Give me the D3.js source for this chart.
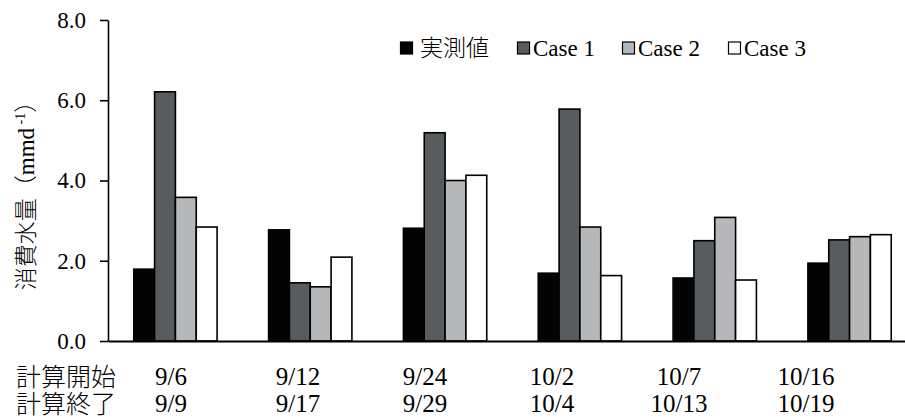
<!DOCTYPE html>
<html>
<head>
<meta charset="utf-8">
<script src="https://cdn.jsdelivr.net/npm/d3@7"></script>
<style>
  html, body { margin: 0; padding: 0; background: #fff; }
  svg { display: block; }
</style>
</head>
<body>
<svg id="chart" width="905" height="418"></svg>
<script>
// ---- data ----
const startLabels = ["9/6", "9/12", "9/24", "10/2", "10/7", "10/16"];
const endLabels   = ["9/9", "9/17", "9/29", "10/4", "10/13", "10/19"];
const seriesNames = ["実測値", "Case 1", "Case 2", "Case 3"];
const observed = [1.79, 2.77, 2.81, 1.69, 1.57, 1.94];
const case1    = [6.21, 1.45, 5.19, 5.78, 2.50, 2.52];
const case2    = [3.58, 1.35, 4.00, 2.84, 3.08, 2.60];
const case3    = [2.84, 2.09, 4.13, 1.63, 1.52, 2.65];
const yTicks   = [0, 2, 4, 6, 8];
const rowLabels = ["計算開始", "計算終了"];

const seriesValues = [observed, case1, case2, case3];
const colors = ["#030303", "#595c5f", "#b6b7b9", "#ffffff"];

const SERIF = "Liberation Serif";
const CJK = "'Liberation Serif', 'Noto Sans CJK JP'";

const svg = d3.select("#chart");

const y = d3.scaleLinear().domain([0, 8]).range([341, 20]);
const groupIdx = d3.range(startLabels.length);
const x0 = d3.scaleBand().domain(groupIdx).range([108, 917])
  .paddingInner(0.382).paddingOuter(0.191);
const x1 = d3.scaleBand().domain(d3.range(seriesNames.length)).range([0, x0.bandwidth()]);

// bars
const groups = svg.append("g").selectAll("g").data(groupIdx).join("g")
  .attr("transform", i => `translate(${x0(i)},0)`);
groups.selectAll("rect")
  .data(i => seriesValues.map((vals, s) => ({ s, v: vals[i] })))
  .join("rect")
  .attr("x", d => x1(d.s))
  .attr("y", d => y(d.v))
  .attr("width", x1.bandwidth())
  .attr("height", d => y(0) - y(d.v))
  .attr("fill", d => colors[d.s])
  .attr("stroke", "#000")
  .attr("stroke-width", 1.6);

// y axis
const yAxis = d3.axisLeft(y).tickValues(yTicks).tickFormat(d3.format(".1f"))
  .tickSize(8).tickSizeOuter(0).tickPadding(14);
const gy = svg.append("g").attr("transform", "translate(108,0)").call(yAxis);
gy.select(".domain").attr("stroke", "#000").attr("stroke-width", 1.6);
gy.selectAll(".tick line").attr("stroke", "#000").attr("stroke-width", 1.6);
gy.selectAll(".tick text").attr("fill", "#000")
  .attr("font-family", SERIF).attr("font-size", 23);

// x axis baseline
const xAxis = d3.axisBottom(x0).tickSize(0).tickSizeOuter(0).tickFormat("");
const gx = svg.append("g").attr("transform", `translate(0,${y(0)})`).call(xAxis);
gx.select(".domain").attr("stroke", "#000").attr("stroke-width", 2);

// category table labels
const rowY = [386, 413];
rowLabels.forEach((lab, r) => {
  svg.append("text").attr("x", 16).attr("y", rowY[r])
    .attr("font-family", CJK).attr("font-size", 25).attr("font-weight", 300)
    .attr("fill", "#000").text(lab);
});
const xl = d3.scalePoint().domain(groupIdx).range([171, 806]);
[startLabels, endLabels].forEach((labels, r) => {
  svg.append("g").selectAll("text").data(groupIdx).join("text")
    .attr("x", i => xl(i)).attr("y", rowY[r] - 1)
    .attr("text-anchor", "middle")
    .attr("font-family", SERIF).attr("font-size", 25).attr("fill", "#000")
    .text(i => labels[i]);
});

// y title
const title = svg.append("text")
  .attr("transform", "translate(34,190) rotate(-90)")
  .attr("text-anchor", "middle")
  .attr("font-family", CJK).attr("font-size", 23).attr("font-weight", 300)
  .attr("fill", "#000");
title.append("tspan").text("消費水量（");
title.append("tspan").attr("font-family", SERIF).text("mmd");
title.append("tspan").attr("font-family", SERIF).attr("font-size", 14).attr("dy", -9).text(" -1");
title.append("tspan").attr("dy", 9).text("）");

// legend
const legendX = [400, 517, 622, 728];
const lg = svg.append("g").selectAll("g").data(seriesNames).join("g")
  .attr("transform", (d, i) => `translate(${legendX[i]},42)`);
lg.append("rect").attr("x", 0.5).attr("y", 0).attr("width", 12).attr("height", 12)
  .attr("fill", (d, i) => colors[i]).attr("stroke", "#000").attr("stroke-width", 1.2);
lg.append("text")
  .attr("x", (d, i) => i === 0 ? 20 : 16).attr("y", 14)
  .attr("font-family", (d, i) => i === 0 ? CJK : SERIF)
  .attr("font-weight", (d, i) => i === 0 ? 300 : 400)
  .attr("font-size", 23).attr("fill", "#000")
  .text(d => d);
</script>
</body>
</html>
